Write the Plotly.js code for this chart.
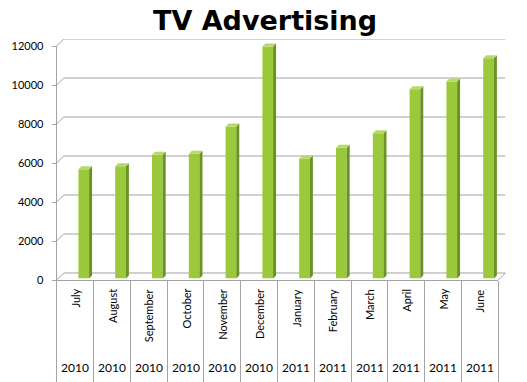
<!DOCTYPE html>
<html>
<head>
<meta charset="utf-8">
<script src="https://cdn.plot.ly/plotly-3.0.1.min.js"></script>
<style>html,body{margin:0;padding:0;background:#fff}#chart{width:527px;height:382px}</style>
</head>
<body>
<div id="chart"></div>
<script>
// ---- data ----
const months = ['July','August','September','October','November','December','January','February','March','April','May','June'];
const years = ['2010','2010','2010','2010','2010','2010','2011','2011','2011','2011','2011','2011'];
const values = [5600, 5750, 6350, 6400, 7800, 11900, 6150, 6700, 7450, 9700, 10100, 11300];
const yTicks = [0, 2000, 4000, 6000, 8000, 10000, 12000];
const chartTitle = 'TV Advertising';

// ---- geometry (pixels in the 527x382 figure) ----
const W = 527, H = 382;
const px = x => x / W;
const py = y => 1 - y / H;
const frontLeft = 56.7, frontRight = 498.3, frontBase = 280;
const pxPerUnit = 234 / 12000;   // vertical scale
const depth = 7;                 // back wall offset (px)
const barLift = 1.5;             // bars stand slightly behind the front edge (px)
const barDepth = 3;              // bar side / cap (px)
const catW = (frontRight - frontLeft) / months.length;
const idx = months.map((_, i) => i);

const depthVal = depth / pxPerUnit;
const capVal = barDepth / pxPerUnit;
const capX = barDepth / catW;
const barOffset = 0.09, barWidth = 0.29;

// side and top faces of the 3D columns
const sideX = [], sideY = [], topX = [], topY = [];
values.forEach((v, i) => {
  const x0 = i + barOffset, x1 = x0 + barWidth;
  sideX.push(x1, x1, x1 + capX, x1 + capX, x1, null);
  sideY.push(0, v, v + capVal, capVal, 0, null);
  topX.push(x0, x1, x1 + capX, x0 + capX, x0, null);
  topY.push(v, v, v + capVal, v + capVal, v, null);
});

const traces = [
  // invisible carrier so the front (x, y) subplot with the value axis exists
  {type: 'scatter', mode: 'markers', x: idx, y: values, xaxis: 'x', yaxis: 'y',
   marker: {opacity: 0, size: 1}, hoverinfo: 'skip'},
  {type: 'bar', x: idx, y: values, xaxis: 'x', yaxis: 'y3', width: barWidth, offset: barOffset,
   marker: {color: '#9BC93B', line: {width: 0}}, hoverinfo: 'skip'},
  {type: 'scatter', mode: 'lines', x: sideX, y: sideY, xaxis: 'x', yaxis: 'y3', fill: 'toself',
   fillcolor: '#6A9325', line: {width: 0, color: 'rgba(0,0,0,0)'}, hoverinfo: 'skip'},
  {type: 'scatter', mode: 'lines', x: topX, y: topY, xaxis: 'x', yaxis: 'y3', fill: 'toself',
   fillcolor: '#B7DA66', line: {width: 0, color: 'rgba(0,0,0,0)'}, hoverinfo: 'skip'}
];

const gridColor = '#A3A3A3';
const shapes = [];
// back-wall gridlines and diagonal connectors
yTicks.forEach(t => {
  shapes.push({type: 'line', layer: 'below', xref: 'paper', yref: 'y2',
    x0: px(frontLeft + depth), x1: px(frontRight + depth), y0: t, y1: t,
    line: {color: gridColor, width: 1}});
  shapes.push({type: 'line', layer: 'below', xref: 'paper', yref: 'y2',
    x0: px(frontLeft), x1: px(frontLeft + depth), y0: t - depthVal, y1: t,
    line: {color: gridColor, width: 1}});
});
// floor right edge
shapes.push({type: 'line', layer: 'below', xref: 'paper', yref: 'y2',
  x0: px(frontRight), x1: px(frontRight + depth), y0: -depthVal, y1: 0,
  line: {color: gridColor, width: 1}});

const labelFont = {family: 'Lato, Carlito, sans-serif', size: 11, color: '#000'};
const annotations = [];
months.forEach((m, i) => {
  annotations.push({xref: 'x', yref: 'paper', x: i, y: py(287), text: m, showarrow: false,
    textangle: -90, xanchor: 'center', yanchor: 'top', font: labelFont});
  annotations.push({xref: 'x', yref: 'paper', x: i, y: py(367), text: years[i], showarrow: false,
    xanchor: 'center', yanchor: 'middle',
    font: {family: 'Lato, Carlito, sans-serif', size: 12, color: '#000'}});
});

const layout = {
  width: W, height: H,
  margin: {l: 0, r: 0, t: 0, b: 0},
  paper_bgcolor: '#fff', plot_bgcolor: 'rgba(0,0,0,0)',
  showlegend: false,
  title: {text: '<b>' + chartTitle + '</b>', x: 0.503, xanchor: 'center', xref: 'paper',
    y: py(21), yref: 'container', yanchor: 'middle',
    font: {family: 'DejaVu Sans, Verdana, sans-serif', size: 27, color: '#000'}},
  xaxis: {domain: [px(frontLeft), px(frontRight)], range: [-0.5, months.length - 0.5], anchor: 'y',
    showline: true, linecolor: gridColor, linewidth: 1, showgrid: false, zeroline: false,
    tickmode: 'array', tickvals: idx.concat([months.length]).map(i => i - 0.5),
    ticktext: idx.concat([months.length]).map(() => ''),
    ticks: 'outside', ticklen: H - frontBase, tickcolor: gridColor, tickwidth: 1,
    showticklabels: false, fixedrange: true},
  yaxis: {domain: [py(frontBase), py(frontBase - 12000 * pxPerUnit)], range: [0, 12000], anchor: 'x',
    type: 'linear', visible: true,
    showline: true, linecolor: gridColor, linewidth: 1, showgrid: false, zeroline: false,
    tickmode: 'array', tickvals: yTicks, ticktext: yTicks.map(String),
    ticks: 'outside', ticklen: 4, tickcolor: gridColor, ticklabelstandoff: 6,
    tickfont: {family: 'Lato, Carlito, sans-serif', size: 11, color: '#000'}, fixedrange: true},
  yaxis2: {domain: [py(frontBase), py(frontBase - depth - 12000 * pxPerUnit)],
    range: [-depthVal, 12000], anchor: 'x', visible: false, fixedrange: true},
  yaxis3: {domain: [py(frontBase - barLift), py(frontBase - barLift - 13000 * pxPerUnit)],
    range: [0, 13000], anchor: 'x', visible: false, fixedrange: true},
  shapes: shapes,
  annotations: annotations
};

Plotly.newPlot('chart', traces, layout, {displayModeBar: false, staticPlot: true});
</script>
</body>
</html>
